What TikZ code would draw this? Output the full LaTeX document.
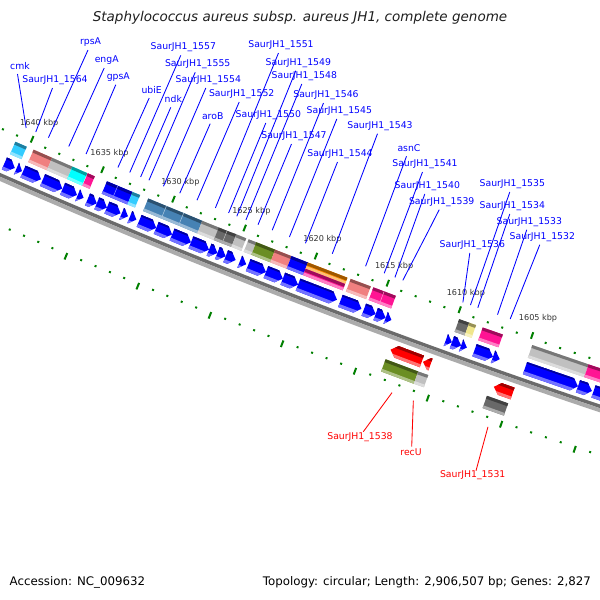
\documentclass[tikz,border=0pt]{standalone}
\usepackage{fontspec}
\setmainfont{DejaVu Sans}
\usetikzlibrary{calc}
\definecolor{cBlue}{RGB}{0,0,255}
\definecolor{cSky}{RGB}{51,204,255}
\definecolor{cCyan}{RGB}{0,255,255}
\definecolor{cSalmon}{RGB}{240,128,128}
\definecolor{cLGray}{RGB}{192,192,192}
\definecolor{cPink}{RGB}{255,20,147}
\definecolor{cSteel}{RGB}{70,130,180}
\definecolor{cDGray}{RGB}{105,105,105}
\definecolor{cOlive}{RGB}{107,142,35}
\definecolor{cOrange}{RGB}{255,140,0}
\definecolor{cKhaki}{RGB}{240,230,140}
\definecolor{cRed}{RGB}{255,0,0}
\definecolor{cTick}{RGB}{0,128,0}
\definecolor{cTxt}{RGB}{51,51,51}
\def\RA{246.172}\def\RK{0.0086014}\def\RR{7100}
\newcommand{\ringquad}[5]{%
 \fill[#5] ({\RA+(#1)*\RK}:{\RR+(#3)}) -- ({\RA+(#2)*\RK}:{\RR+(#3)}) -- ({\RA+(#2)*\RK}:{\RR+(#4)}) -- ({\RA+(#1)*\RK}:{\RR+(#4)}) -- cycle;}
\newcommand{\featbox}[5]{%
 \ringquad{#1}{#2}{#3}{#4}{#5}%
 \ringquad{#1}{#2}{#3}{#3+3}{#5!62!black}%
 \ringquad{#1}{#2}{#4-2.8}{#4}{#5!55!white}}
\newcommand{\featdiv}[4]{%
 \draw[#4!45!white,line width=0.5pt] ({\RA+(#1)*\RK}:{\RR+(#2)}) -- ({\RA+(#1)*\RK}:{\RR+(#3)});}
\newcommand{\featR}[5]{%
 \begin{scope}
 \pgfmathsetmacro{\qh}{max(#1,#2-6)}%
 \clip ({\RA+(#1)*\RK}:{\RR+(#3)}) -- ({\RA+\qh*\RK}:{\RR+(#3)}) -- ({\RA+(#2)*\RK}:{\RR+((#3)+(#4))/2}) -- ({\RA+\qh*\RK}:{\RR+(#4)}) -- ({\RA+(#1)*\RK}:{\RR+(#4)}) -- cycle;
 \ringquad{#1-1}{#2+1}{#3}{#4}{#5}%
 \ringquad{#1-1}{#2+1}{#3}{#3+1.8}{#5!62!black}%
 \ringquad{#1-1}{#2+1}{#4-3.2}{#4}{#5!55!white}%
 \end{scope}}
\newcommand{\featL}[5]{%
 \begin{scope}
 \pgfmathsetmacro{\qh}{min(#2,#1+6)}%
 \clip ({\RA+(#1)*\RK}:{\RR+((#3)+(#4))/2}) -- ({\RA+\qh*\RK}:{\RR+(#3)}) -- ({\RA+(#2)*\RK}:{\RR+(#3)}) -- ({\RA+(#2)*\RK}:{\RR+(#4)}) -- ({\RA+\qh*\RK}:{\RR+(#4)}) -- cycle;
 \ringquad{#1-1}{#2+1}{#3}{#4}{#5}%
 \ringquad{#1-1}{#2+1}{#3}{#3+3}{#5!62!black}%
 \ringquad{#1-1}{#2+1}{#4-3}{#4}{#5!55!white}%
 \end{scope}}
\newcommand{\ringarc}[3]{%
 \fill[#3] ({\RA-30*\RK}:{\RR+(#1)}) arc[start angle={\RA-30*\RK}, end angle={\RA+640*\RK}, radius={\RR+(#1)}] -- ({\RA+640*\RK}:{\RR+(#2)}) arc[start angle={\RA+640*\RK}, end angle={\RA-30*\RK}, radius={\RR+(#2)}] -- cycle;}
\begin{document}
\begin{tikzpicture}[x=1pt,y=1pt,
  lbl/.style={font=\fontsize{9.3}{11}\selectfont, text=cBlue, inner sep=0pt},
  rlbl/.style={font=\fontsize{9.3}{11}\selectfont, text=cRed, inner sep=0pt},
  bline/.style={draw=cBlue, line width=0.85pt},
  rline/.style={draw=cRed, line width=0.85pt},
  ticklbl/.style={font=\fontsize{8.1}{9}\selectfont, text=cTxt, inner sep=0pt}]
\useasboundingbox (0,0) rectangle (600,-600);
\fill[white] (0,0) rectangle (600,-600);
\begin{scope}
\clip (0,0) rectangle (600,-600);
\begin{scope}[shift={(2871,6368)}]
% rulers
\foreach \p in {1596,...,1644}{
  \pgfmathsetmacro{\a}{246.43+(1640-\p)*0.12386}
  \pgfmathtruncatemacro{\m}{mod(\p,5)}
  \ifnum\m=0
    \draw[cTick,line width=2pt] (\a:{\RR-3.5}) -- (\a:{\RR+3.5});
    \draw[cTick,line width=2pt] (\a:{\RR+90.5}) -- (\a:{\RR+97.5});
  \else
    \draw[cTick,line width=2pt] (\a:{\RR+1.5}) -- (\a:{\RR+3.5});
    \draw[cTick,line width=2pt] (\a:{\RR+90.7}) -- (\a:{\RR+92.7});
  \fi
}
\foreach \p in {1640,1635,...,1605}{
  \node[ticklbl] (t\p) at ({246.43+(1640-\p)*0.12386}:{\RR-18}) {\p\ kbp};
}
% backbone
\ringarc{43.5}{47}{black!58}
\ringarc{47}{51}{black!33}
% upper COG boxes
\featbox{16.6}{28.2}{9}{22.5}{cSky}
\featbox{35.2}{54.2}{9}{22.5}{cSalmon}
\featbox{54.2}{74.9}{9}{22.5}{cLGray}
\featbox{74.9}{89.9}{9}{22.5}{cCyan}
\featbox{90.4}{97.6}{9}{22.5}{cPink}
\featbox{109.9}{120.9}{9}{22.5}{cBlue}
\featbox{120.9}{135.9}{9}{22.5}{cBlue}
\featdiv{120.9}{9}{22.5}{cBlue}
\featbox{135.9}{143.6}{9}{22.5}{cSky}
\featbox{151.9}{170.2}{9}{22.5}{cSteel}
\featbox{170.2}{187.6}{9}{22.5}{cSteel}
\featbox{187.6}{206.6}{9}{22.5}{cSteel}
\featdiv{170.2}{9}{22.5}{cSteel}
\featdiv{187.6}{9}{22.5}{cSteel}
\featbox{206.6}{223.2}{9}{22.5}{cLGray}
\featbox{223.2}{231.6}{9}{22.5}{cDGray}
\featbox{231.6}{240.9}{9}{22.5}{cDGray}
\featdiv{231.6}{9}{22.5}{cDGray}
\featbox{240.9}{250.9}{9}{22.5}{cLGray}
\featbox{253.2}{261}{9}{22.5}{cLGray}
\featbox{261}{280}{9}{22.5}{cOlive}
\featbox{280}{296.5}{9}{22.5}{cSalmon}
\featbox{296.5}{313}{9}{22.5}{cBlue}
\featbox{313}{352.6}{9}{15.7}{cOrange}
\featbox{313}{352.6}{15.7}{22.5}{cPink}
\featbox{355.9}{375.9}{9}{22.5}{cSalmon}
\featbox{378.6}{389.2}{9}{22.5}{cPink}
\featbox{389.2}{400.9}{9}{22.5}{cPink}
\featdiv{389.2}{9}{22.5}{cPink}
\featbox{464.2}{474.2}{9}{22.5}{cDGray}
\featbox{474.2}{481}{9}{22.5}{cKhaki}
\featbox{487.6}{507.6}{9}{22.5}{cPink}
\featbox{536.9}{592.6}{9}{22.5}{cLGray}
\featbox{592.6}{612}{9}{22.5}{cPink}
% blue arrows
\foreach \qa/\qb in {15.2/25.8, 27.5/33.2, 34.2/52.5, 54.2/74.2, 74.5/89.2, 89.8/95.8, 99.8/109.2, 109.2/119.5, 119.5/133.2, 134.2/140.8, 142.5/149.2, 152/169.2, 169.2/185.2, 185.2/204.2, 204.2/222.5, 222.5/230.8, 230.8/239.2, 239.2/249.2, 253.2/259.8, 261.8/279.5, 279.5/296.5, 296.5/311.8, 311.8/350.8, 354.2/375.2, 377.5/389.2, 389.2/399.2, 399.2/405, 459.2/465.2, 465.2/474.2, 474.2/480, 487.5/505.8, 505.8/512.5, 537.5/589.8, 589.8/603.5, 605/625}{
  \featR{\qa}{\qb}{26.7}{39.7}{cBlue}
}
% forward (outer) features
\featL{413.8}{445}{55}{67.5}{cRed}
\featL{446}{453.4}{55}{67.5}{cRed}
\featL{515.9}{534.4}{55}{67.5}{cRed}
\featbox{412.6}{444.9}{72}{85}{cOlive}
\featbox{444.9}{454.8}{72}{85}{cLGray}
\featbox{512.6}{533.6}{72}{85}{cDGray}
% label anchor points on ring
\foreach \n/\q in {1/20.5, 2/30.4, 3/43.4, 4/64.2, 5/81.9, 6/114.4, 7/126.4, 8/137.5, 9/145.9, 10/160.6, 11/177.2, 12/194.7, 13/213.4, 14/226.7, 15/235, 16/244.2, 17/256.5, 18/270.7, 19/288, 20/304.2, 21/331.3, 22/364.7, 23/383.4, 24/394.2, 25/402.1, 26/462.2, 27/469.7, 28/477.1, 29/496.7, 30/509.2}{
  \coordinate (e\n) at ({\RA+\q*\RK}:{\RR-8});
}
\foreach \n/\q in {31/428.9, 32/449.9, 33/523.1}{
  \coordinate (e\n) at ({\RA+\q*\RK}:{\RR+101});
}
\end{scope}
\end{scope}
% blue labels
\foreach \n/\t/\x/\y in {1/cmk/20/66, 2/SaurJH1\_1564/55/80, 3/rpsA/90.5/42, 4/engA/106.7/60, 5/gpsA/118.3/76.7, 6/ubiE/151.7/90, 7/SaurJH1\_1557/183.3/47.3, 8/ndk/173.3/99.3, 9/SaurJH1\_1555/197.7/64.3, 10/SaurJH1\_1554/208.3/80, 11/aroB/212.7/115.7, 12/SaurJH1\_1552/241.7/94, 13/SaurJH1\_1551/281/45, 14/SaurJH1\_1550/268.3/115, 15/SaurJH1\_1549/298.3/62.7, 16/SaurJH1\_1548/304.3/76, 17/SaurJH1\_1547/294/136, 18/SaurJH1\_1546/326/95, 19/SaurJH1\_1545/339.3/111, 20/SaurJH1\_1544/340/154, 21/SaurJH1\_1543/380/125.7, 22/asnC/409/148.3, 23/SaurJH1\_1541/425/164, 24/SaurJH1\_1540/427.3/186, 25/SaurJH1\_1539/441.7/201.7, 26/SaurJH1\_1536/472.3/245, 27/SaurJH1\_1535/512.3/184, 28/SaurJH1\_1534/512.3/206, 29/SaurJH1\_1533/529.3/221.7, 30/SaurJH1\_1532/542.3/236.7}{
  \node[lbl] (l\n) at (\x,-\y) {\t};
}
\foreach \n in {1,...,24,26,27,28,29,30}{
  \draw[bline] ($(l\n)+(-2.5,-8)$) -- (e\n);
}
\coordinate (k25) at (428,-231.7);
\draw[bline] ($(l25)+(-2.5,-8)$) -- (k25) -- (e25);
% red labels
\node[rlbl] (l31) at (360,-436.7) {SaurJH1\_1538};
\node[rlbl] (l32) at (411,-452) {recU};
\node[rlbl] (l33) at (472.7,-475.3) {SaurJH1\_1531};
\draw[rline] (e31) -- ($(l31)+(3.3,5)$);
\draw[rline] (e32) -- ($(l32)+(0.7,5.3)$);
\draw[rline] (e33) -- ($(l33)+(3.3,4.6)$);
% title and footer
\node[font=\fontsize{13.5}{16}\selectfont\itshape, text=black!88, inner sep=0pt] (title) at (300,-18) {Staphylococcus aureus subsp. aureus JH1, complete genome};
\node[font=\fontsize{11.8}{14}\selectfont, text=black, anchor=west, inner sep=0pt] (acc) at (9.5,-582) {Accession: NC\_009632};
\node[font=\fontsize{11.8}{14}\selectfont, text=black, anchor=east, inner sep=0pt] (topo) at (591,-582) {Topology: circular; Length: 2,906,507 bp; Genes: 2,827};
\end{tikzpicture}
\end{document}
